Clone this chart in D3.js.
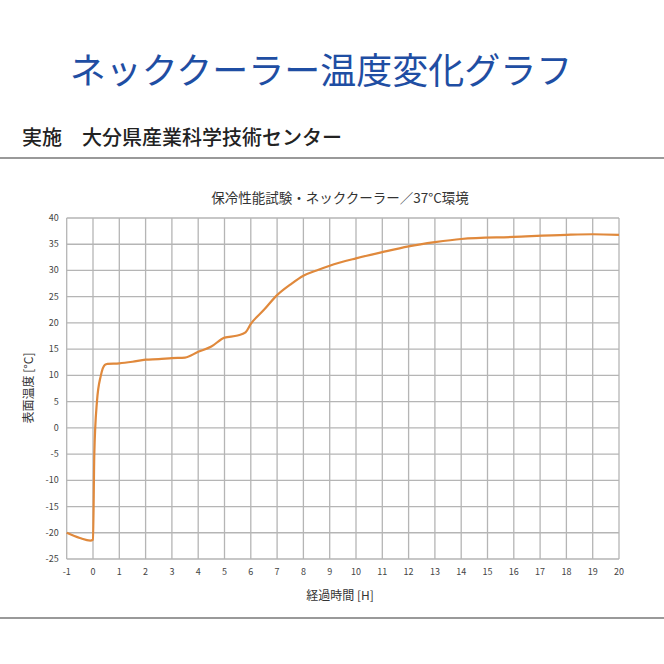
<!DOCTYPE html><html><head><meta charset="utf-8"><script src="https://cdn.jsdelivr.net/npm/d3@7"></script>
<style>body{margin:0;background:#fff}</style></head><body><svg id="c" width="664" height="664"></svg>
<script>
const hours=[-1,-0.5,-0.1,0,0.05,0.15,0.3,0.45,0.55,1,1.5,2,2.5,3,3.5,4,4.5,5,5.5,5.8,6,6.5,7,7.5,8,8.5,9,10,11,12,13,14,16,18,19,20];
const temps=[-20,-21,-21.5,-21.3,-5,5,10,12,12.2,12.3,12.6,13,13.1,13.3,13.4,14.5,15.5,17.2,17.6,18.2,19.8,22.5,25.3,27.3,29,30,30.9,32.3,33.5,34.6,35.4,36,36.4,36.8,36.9,36.8];
const xTicks=d3.range(-1,21);
const yTicks=d3.range(-25,41,5);
const svg=d3.select("#c");
const F="'Noto Sans CJK JP',sans-serif";
const x=d3.scaleLinear().domain([-1,20]).range([66.7,619]);
const y=d3.scaleLinear().domain([-25,40]).range([559,218]);
svg.append("text").attr("x",321).attr("y",84).attr("text-anchor","middle").attr("font-family",F).attr("font-size",36).attr("fill","#1f4ea3").text("ネッククーラー温度変化グラフ");
svg.append("text").attr("x",22).attr("y",145).attr("font-family",F).attr("font-size",20).attr("font-weight",500).attr("fill","#222").text("実施　大分県産業科学技術センター");
[158,618].forEach(v=>svg.append("line").attr("x1",0).attr("x2",664).attr("y1",v).attr("y2",v).attr("stroke","#999").attr("stroke-width",2));
svg.append("text").attr("x",340).attr("y",203).attr("text-anchor","middle").attr("font-family",F).attr("font-size",13.5).attr("fill","#333").text("保冷性能試験・ネッククーラー／37°C環境");
const g=svg.append("g");
g.selectAll(".vx").data(xTicks).join("line").attr("x1",d=>x(d)).attr("x2",d=>x(d)).attr("y1",y(40)).attr("y2",y(-25)).attr("stroke","#b5b5b5").attr("stroke-width",1.3);
g.selectAll(".hy").data(yTicks).join("line").attr("y1",d=>y(d)).attr("y2",d=>y(d)).attr("x1",x(-1)).attr("x2",x(20)).attr("stroke","#b5b5b5").attr("stroke-width",1.3);
g.selectAll(".xl").data(xTicks).join("text").attr("x",d=>x(d)).attr("y",y(-25)+16).attr("text-anchor","middle").attr("font-family",F).attr("font-size",9).attr("fill","#444").text(d=>d);
g.selectAll(".yl").data(yTicks).join("text").attr("x",x(-1)-8).attr("y",d=>y(d)+3).attr("text-anchor","end").attr("font-family",F).attr("font-size",9).attr("fill","#444").text(d=>d);
svg.append("text").attr("x",340).attr("y",600).attr("text-anchor","middle").attr("font-family",F).attr("font-size",12).attr("fill","#333").text("経過時間 [H]");
svg.append("text").attr("transform","translate(33,388) rotate(-90)").attr("text-anchor","middle").attr("font-family",F).attr("font-size",12).attr("fill","#333").text("表面温度 [°C]");
const pts=hours.map((h,i)=>[h,temps[i]]);
svg.append("path").datum(pts).attr("d",d3.line().x(d=>x(d[0])).y(d=>y(d[1])).curve(d3.curveMonotoneX)).attr("fill","none").attr("stroke","#e0893c").attr("stroke-width",2.2);
</script></body></html>
